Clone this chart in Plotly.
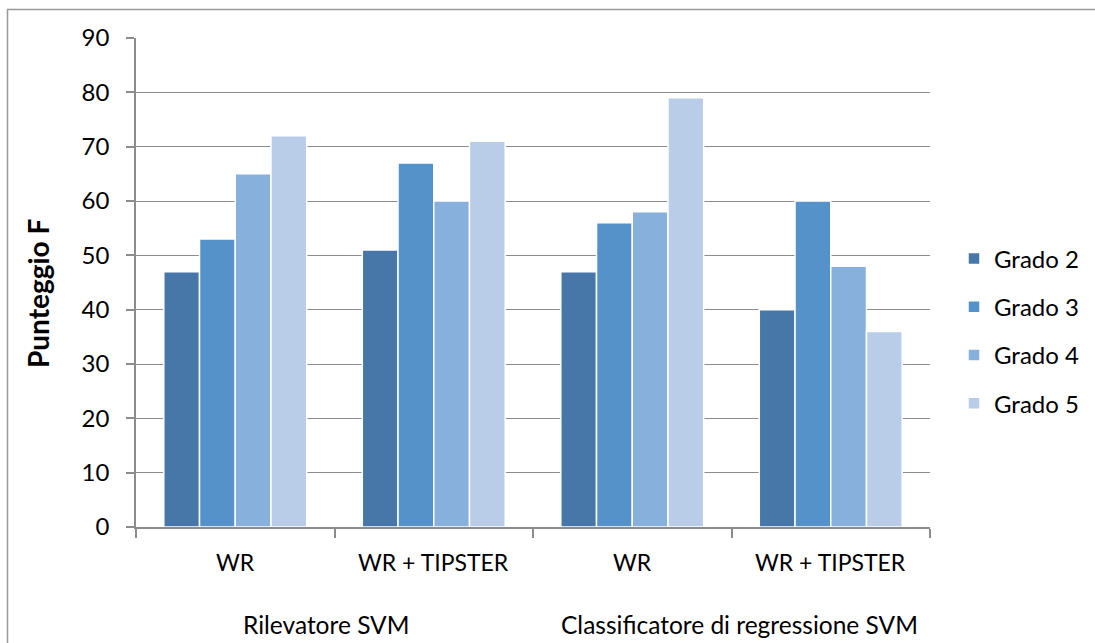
import plotly.graph_objects as go

# Punteggio F per configurazione e grado del kernel
subcategories = ["WR", "WR + TIPSTER", "WR", "WR + TIPSTER"]
groups = ["Rilevatore SVM", "Classificatore di regressione SVM"]
series_names = ["Grado 2", "Grado 3", "Grado 4", "Grado 5"]
grado2 = [47, 51, 47, 40]
grado3 = [53, 67, 56, 60]
grado4 = [65, 60, 58, 48]
grado5 = [72, 71, 79, 36]
y_ticks = [0, 10, 20, 30, 40, 50, 60, 70, 80, 90]

colors = ["#4677A8", "#5592C9", "#87B0DC", "#B9CDE8"]
FONT = "Lato"
GRID = "#8C8C8C"

W, H = 1095, 643
L, R, T, B = 136, 930, 38, 527  # plot area in pixels


def px_x(x):
    return (x - L) / (R - L)


def px_y(y):
    return (B - y) / (B - T)


xpos = list(range(len(subcategories)))

fig = go.Figure()
for name, vals, col in zip(series_names, [grado2, grado3, grado4, grado5], colors):
    fig.add_trace(go.Bar(
        x=xpos, y=vals, name=name, legendgroup=name,
        marker=dict(color=col, line=dict(color="white", width=1.5)),
    ))

annotations = []
for i, lab in enumerate(subcategories):
    annotations.append(dict(
        x=i, xref="x", y=px_y(562), yref="paper", text=lab, showarrow=False,
        font=dict(family=FONT, size=23, color="#000000"), yanchor="middle",
    ))
group_shift = [-9, 8]
for j, g in enumerate(groups):
    annotations.append(dict(
        x=0.5 + 2 * j, xref="x", y=px_y(624), yref="paper", text=g, showarrow=False,
        xshift=group_shift[j],
        font=dict(family=FONT, size=24.5, color="#000000"), yanchor="middle",
    ))
annotations.append(dict(
    x=px_x(38), xref="paper", y=px_y(294), yref="paper", text="<b>Punteggio F</b>",
    textangle=-90, showarrow=False, xanchor="center", yanchor="middle",
    font=dict(family=FONT, size=28, color="#000000"),
))

shapes = [
    # chart frame (top and left edges)
    dict(type="line", xref="paper", yref="paper", x0=px_x(7), x1=px_x(1095),
         y0=px_y(9.5), y1=px_y(9.5), line=dict(color="#999999", width=1.5)),
    dict(type="line", xref="paper", yref="paper", x0=px_x(7.5), x1=px_x(7.5),
         y0=px_y(9.5), y1=px_y(643), line=dict(color="#999999", width=1.5)),
]

fig.update_layout(
    width=W, height=H,
    margin=dict(l=L, r=W - R, t=T, b=H - B, pad=0, autoexpand=False),
    paper_bgcolor="white", plot_bgcolor="white",
    barmode="group", bargap=0.28, bargroupgap=0,
    font=dict(family=FONT, size=24, color="#000000"),
    showlegend=True,
    legend=dict(
        x=px_x(954), y=px_y(331), xanchor="left", yanchor="middle",
        traceorder="grouped", tracegroupgap=14,
        font=dict(family=FONT, size=24, color="#000000"),
        bgcolor="rgba(0,0,0,0)", itemclick=False,
    ),
    xaxis=dict(
        range=[-0.5, len(subcategories) - 0.5],
        tickvals=[i - 0.5 for i in range(len(subcategories) + 1)],
        ticktext=[""] * (len(subcategories) + 1),
        ticks="outside", ticklen=9, tickcolor=GRID, tickwidth=1.5,
        showline=True, linecolor=GRID, linewidth=1.5,
        showgrid=False, zeroline=False, fixedrange=True,
    ),
    yaxis=dict(
        range=[0, 90], tickvals=y_ticks,
        ticks="outside", ticklen=8, tickcolor=GRID, tickwidth=1.5,
        showline=True, linecolor=GRID, linewidth=1.5,
        showgrid=True, gridcolor=GRID, gridwidth=1.2,
        zeroline=False, ticklabelstandoff=12,
        tickfont=dict(family=FONT, size=24, color="#000000"),
        fixedrange=True,
    ),
    annotations=annotations,
    shapes=shapes,
)

fig.write_html("out.html", config={"displayModeBar": False})
